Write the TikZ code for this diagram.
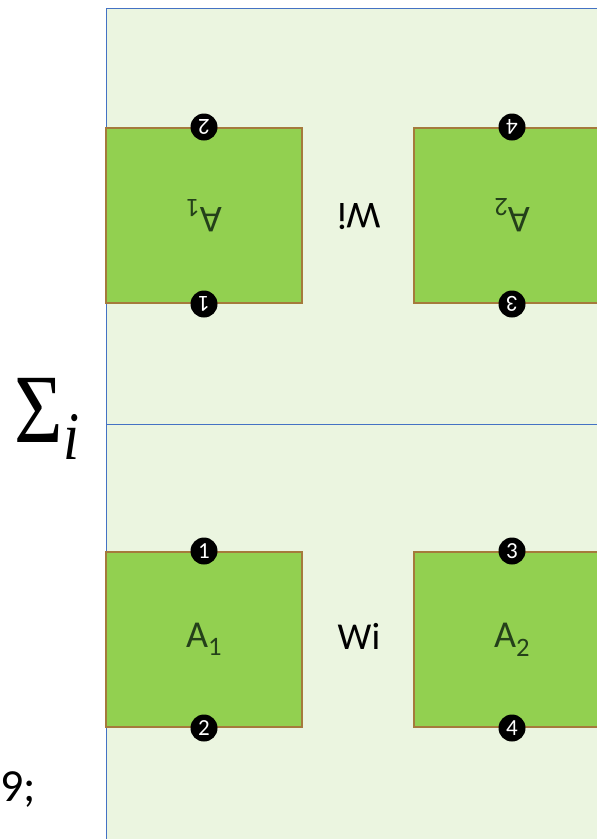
\documentclass[tikz,border=0pt]{standalone}
\usepackage{fontspec}
\setmainfont{Carlito}
\newfontfamily\sumfont{Liberation Serif}
\usetikzlibrary{positioning}

\definecolor{panelfill}{HTML}{EBF5E0}
\definecolor{boxfill}{HTML}{92D050}
\definecolor{boxedge}{HTML}{A57A3C}
\definecolor{lineblue}{HTML}{4472C4}
\definecolor{labelgreen}{HTML}{24401A}

\begin{document}
\begin{tikzpicture}[x=1pt,y=-1pt,
      area/.style={rectangle,draw=boxedge,fill=boxfill,line width=2pt,
        minimum width=196pt,minimum height=175pt,inner sep=0pt,
        text=labelgreen,font=\fontsize{38}{38}\selectfont},
      pin node/.style={circle,fill=black,text=white,inner sep=0pt,
        minimum size=27pt,font=\fontsize{23}{23}\selectfont},
      gap label/.style={font=\fontsize{38}{38}\selectfont}]
    \useasboundingbox (0,0) rectangle (597,839);
    \clip (0,0) rectangle (597,839);
    % panel and its blue rules
    \fill[panelfill] (106,8) rectangle (660,900);
    \draw[lineblue,line width=1pt] (106,900) -- (106,8) -- (660,8);
    \draw[lineblue,line width=1pt] (106,424) -- (660,424);
    % lower half
    \node[area] (A1) at (204,639.5) {A\textsubscript{1}};
    \node[area] (A2) at (512,639.5) {A\textsubscript{2}};
    \node[gap label] (W) at (359,636) {Wi};
    \node[pin node] (p1) at (A1.north) {1};
    \node[pin node] (p2) at (A1.south) {2};
    \node[pin node] (p3) at (A2.north) {3};
    \node[pin node] (p4) at (A2.south) {4};
    % upper half, turned over
    \node[area,rotate=180] (A1u) at (204,215.5) {A\textsubscript{1}};
    \node[area,rotate=180] (A2u) at (512,215.5) {A\textsubscript{2}};
    \node[gap label,rotate=180] (Wu) at (359,217) {Wi};
    \node[pin node,rotate=180] (p1u) at (A1u.north) {1};
    \node[pin node,rotate=180] (p2u) at (A1u.south) {2};
    \node[pin node,rotate=180] (p3u) at (A2u.north) {3};
    \node[pin node,rotate=180] (p4u) at (A2u.south) {4};
    % sum sign and stray text on the left
    \node[anchor=base west,inner sep=0pt,xscale=0.85] (sum) at (14,442)
      {\sumfont\fontsize{98}{98}\selectfont
       Σ\kern1pt\raisebox{-17pt}{\fontsize{68}{68}\selectfont\itshape i}};
    \node[anchor=base east,inner sep=0pt,font=\fontsize{46}{46}\selectfont]
      (tail) at (36,801) {9;};
  \end{tikzpicture}
\end{document}
